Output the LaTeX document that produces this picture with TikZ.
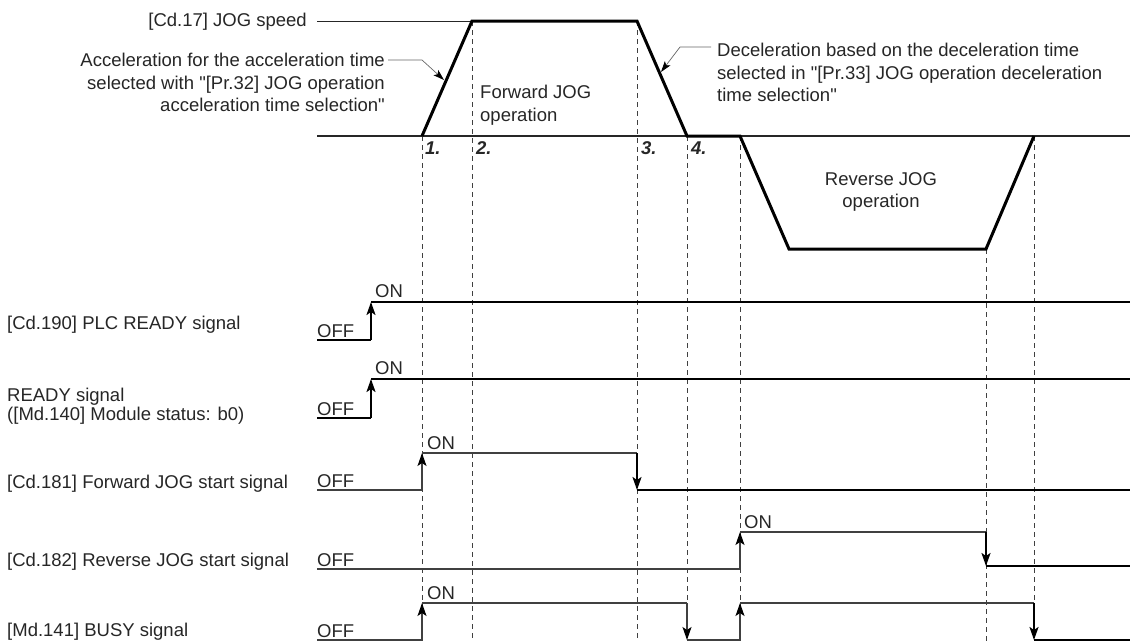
\documentclass[tikz,border=0pt]{standalone}
\usepackage{fontspec}
\setmainfont[Ligatures=TeXOff]{Liberation Sans}
\usetikzlibrary{arrows.meta,positioning,calc}

\begin{document}
\begin{tikzpicture}[x=1pt,y=-1pt,
    txt/.style={font=\fontsize{18.5}{22.5}\selectfont, inner sep=0pt, text=black!85},
    num/.style={txt, font=\fontsize{18.5}{22.5}\selectfont\bfseries\itshape},
    speed/.style={line width=3pt, line join=miter},
    axis/.style={line width=1.2pt, black!85},
    guide/.style={line width=0.9pt, black!75, dash pattern=on 5pt off 4pt},
    thinsig/.style={line width=1.2pt, black!75},
    thicksig/.style={line width=2pt},
    trans/.style={-{Stealth[length=13pt,width=9pt,inset=3pt,black]}},
    leader/.style={line width=0.7pt, black!60, -{Stealth[length=11pt,width=7pt,inset=2.5pt,black]}}
]
    \useasboundingbox (0,0) rectangle (1130,641);

    % Guide lines at the switching instants
    \foreach \t/\s in {422/136, 472/21, 637/21, 687/136, 740/136, 986/249, 1034/136} {
        \draw[guide] (\t,\s) -- (\t,641);
    }

    % Speed profile
    \draw[axis] (317,136) -- (1130,136);
    \draw[axis, line width=1pt] (317,21) -- (472,21);
    \draw[speed] (422,136) -- (472,21) -- (637,21) -- (687,136) -- (740,136)
        -- (789,249) -- (986,249) -- (1034,136);

    \node[txt, anchor=east] (jogspeed) at (307,21.5) {[Cd.17] JOG speed};
    \node[txt, anchor=north east, align=right] (accel) at (385,53)
        {Acceleration for the acceleration time\\
         selected with "[Pr.32] JOG operation\\
         acceleration time selection"};
    \node[txt, anchor=north west, align=left] (decel) at (717,43)
        {Deceleration based on the deceleration time\\
         selected in "[Pr.33] JOG operation deceleration\\
         time selection"};
    \node[txt, anchor=north west, align=left] (fwdop) at (480,85)
        {Forward JOG\\operation};
    \node[txt, anchor=north, align=center] (revop) at (881,172)
        {Reverse JOG\\operation};

    % Leaders to the slopes
    \coordinate (accelpt) at (444,80);
    \coordinate (decelpt) at (661,72);
    \draw[leader] ($(accel.north east)+(3,7)$) -- ++(34,0) -- (accelpt);
    \draw[leader] ($(decel.north west)+(-6,4)$) -- ++(-31,0) -- (decelpt);

    % Step numbers
    \node[num, anchor=base west] (n1) at (425,154) {1.};
    \node[num, anchor=base west] (n2) at (476,154) {2.};
    \node[num, anchor=base west] (n3) at (641,154) {3.};
    \node[num, anchor=base west] (n4) at (691,154) {4.};

    % Signal names
    \node[txt, anchor=base west] (plcready) at (7,329.5) {[Cd.190] PLC READY signal};
    \node[txt, anchor=north west, align=left, font=\fontsize{18.5}{18.5}\selectfont]
        (ready) at (7,388) {READY signal\\([Md.140] Module status: b0)};
    \node[txt, anchor=base west] (fwdstart) at (7,488.5) {[Cd.181] Forward JOG start signal};
    \node[txt, anchor=base west] (revstart) at (7,566.5) {[Cd.182] Reverse JOG start signal};
    \node[txt, anchor=base west] (busy) at (7,636.5) {[Md.141] BUSY signal};

    % PLC READY
    \draw[thicksig] (317,340) -- (371,340);
    \draw[thicksig, trans] (371,340) -- (371,302);
    \draw[thicksig] (371,302) -- (1130,302);
    \node[txt, anchor=base west] at (317,337) {OFF};
    \node[txt, anchor=base west] at (375,297) {ON};

    % READY
    \draw[thicksig] (317,418) -- (371,418);
    \draw[thicksig, trans] (371,418) -- (371,379);
    \draw[thicksig] (371,379) -- (1130,379);
    \node[txt, anchor=base west] at (317,415) {OFF};
    \node[txt, anchor=base west] at (375,374) {ON};

    % Forward JOG start
    \draw[thinsig] (317,490) -- (422,490);
    \draw[thinsig, trans] (422,490) -- (422,453);
    \draw[thinsig] (422,453) -- (637,453);
    \draw[thicksig, trans] (637,453) -- (637,490);
    \draw[thicksig] (637,490) -- (1130,490);
    \node[txt, anchor=base west] at (317,487) {OFF};
    \node[txt, anchor=base west] at (427,449) {ON};

    % Reverse JOG start
    \draw[thinsig] (317,569) -- (740,569);
    \draw[thinsig, trans] (740,569) -- (740,532);
    \draw[thinsig] (740,532) -- (986,532);
    \draw[thicksig, trans] (986,532) -- (986,566);
    \draw[thicksig] (986,566) -- (1130,566);
    \node[txt, anchor=base west] at (317,566) {OFF};
    \node[txt, anchor=base west] at (744,528) {ON};

    % BUSY
    \draw[thinsig] (317,640) -- (422,640);
    \draw[thinsig, trans] (422,640) -- (422,603);
    \draw[thinsig] (422,603) -- (687,603);
    \draw[thinsig, trans] (687,603) -- (687,640);
    \draw[thinsig] (687,640) -- (740,640);
    \draw[thinsig, trans] (740,640) -- (740,603);
    \draw[thinsig] (740,603) -- (1034,603);
    \draw[thicksig, trans] (1034,603) -- (1034,640);
    \draw[thicksig] (1034,640) -- (1130,640);
    \node[txt, anchor=base west] at (317,637) {OFF};
    \node[txt, anchor=base west] at (427,599) {ON};
\end{tikzpicture}
\end{document}
